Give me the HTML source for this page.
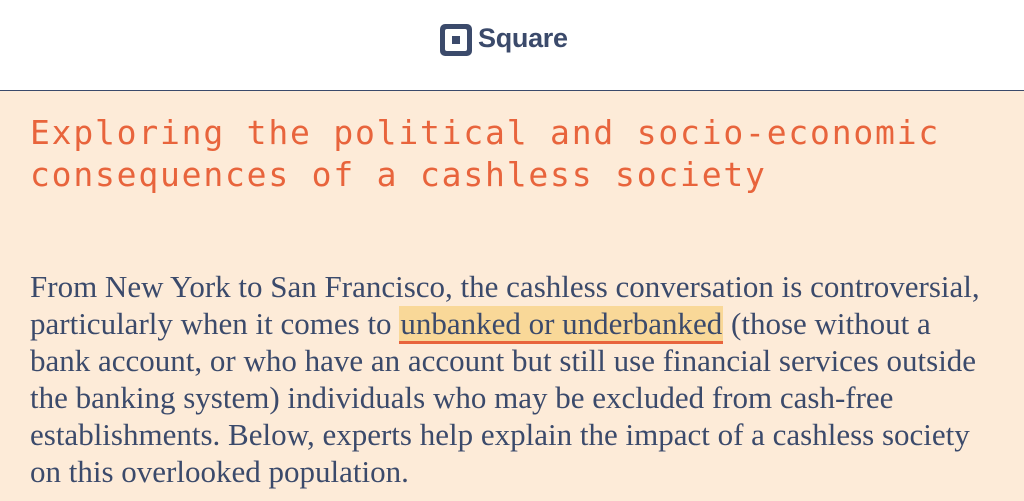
<!DOCTYPE html>
<html><head><meta charset="utf-8"><style>
html,body{margin:0;padding:0;width:1024px;height:501px;overflow:hidden}
body{background:#fdebd8;position:relative}
#hdr{position:absolute;left:0;top:0;width:1024px;height:90px;background:#fff;border-bottom:1px solid #3b4a6b}
#logo-icon{position:absolute;left:440px;top:24px;width:32px;height:32px;background:#3b4a6b;border-radius:5px}
#logo-icon::before{content:"";position:absolute;left:5px;top:5px;width:22px;height:22px;border-radius:2px;background:#fff}
#logo-icon::after{content:"";position:absolute;left:12px;top:12px;width:8px;height:8px;background:#3b4a6b}
#logo-text{position:absolute;left:478px;top:23px;font:bold 27px "Liberation Sans",sans-serif;color:#3b4a6b;letter-spacing:-0.3px}
.t{position:absolute;left:30px;font:33px "DejaVu Sans Mono","Liberation Mono",monospace;color:#e8643c;letter-spacing:1.8px;white-space:nowrap;line-height:40px}
.p{position:absolute;left:30px;font:31px "Liberation Serif",serif;color:#3b4a6b;white-space:nowrap;line-height:37px}
.hl{background:#f9d898;border-bottom:3px solid #e8643c;padding:0 1px}
</style></head><body>
<div id="hdr">
<div id="logo-icon"></div>
<div id="logo-text">Square</div>
</div>
<div>
<div class="t" style="top:113px">Exploring the political and socio-economic</div>
<div class="t" style="top:155px">consequences of a cashless society</div>
</div>
<div>
<div class="p" style="top:268px">From New York to San Francisco, the cashless conversation is controversial,</div>
<div class="p" style="top:305px">particularly when it comes to <span class="hl">unbanked or underbanked</span> (those without a</div>
<div class="p" style="top:342px">bank account, or who have an account but still use financial services outside</div>
<div class="p" style="top:379px">the banking system) individuals who may be excluded from cash-free</div>
<div class="p" style="top:416px">establishments. Below, experts help explain the impact of a cashless society</div>
<div class="p" style="top:453px">on this overlooked population.</div>
</div>
</body></html>
